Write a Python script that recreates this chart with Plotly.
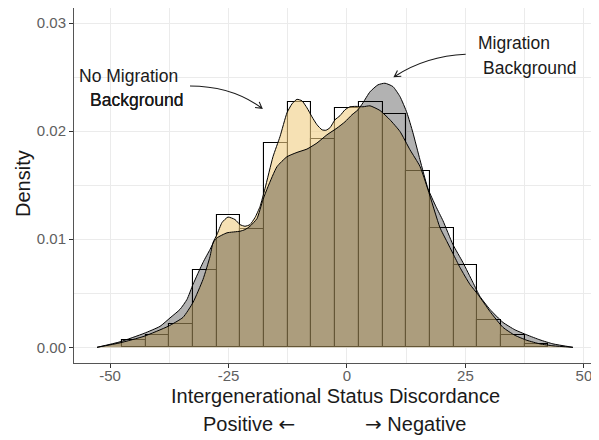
import math
import plotly.graph_objects as go

# ---------------- data ----------------
bin_centers = [-45, -40, -35, -30, -25, -20, -15, -10, -5, 0, 5, 10, 15, 20, 25, 30, 35, 40]
bin_density = [0.00067, 0.00115, 0.00219, 0.00714, 0.01228, 0.01096, 0.01892, 0.02271, 0.01927,
               0.02215, 0.02266, 0.02160, 0.01634, 0.01101, 0.00757, 0.00254, 0.00111, 0.00030]
bin_width = 5

nomig_x = [-52.74, -47.89, -42.83, -37.76, -34.6, -32.49, -30.38, -28.9, -28.27, -27.43, -26.37,
           -25.11, -23.63, -22.57, -21.52, -20.46, -19.41, -18.35, -17.3, -15.61, -14.14, -12.66,
           -11.6, -10.55, -9.49, -8.44, -7.38, -6.33, -5.27, -4.43, -3.59, -2.53, -1.48, -0.42,
           0.63, 1.9, 3.38, 4.85, 6.96, 9.07, 11.18, 13.29, 15.4, 17.09, 19.62, 21.1, 22.36,
           23.84, 25.95, 27.64, 30.17, 32.91, 35.44, 37.97, 40.72, 43.46, 47.68]
nomig_y = [0.0, 0.000415, 0.00102, 0.00194, 0.00277, 0.00415, 0.00628, 0.0084, 0.00969, 0.01043,
           0.01154, 0.01205, 0.01182, 0.01135, 0.0112, 0.01135, 0.012, 0.01302, 0.01468, 0.01763,
           0.01948, 0.02169, 0.02252, 0.02294, 0.0228, 0.02215, 0.02132, 0.02059, 0.02012, 0.02008,
           0.02031, 0.02105, 0.02142, 0.02197, 0.02225, 0.02229, 0.02225, 0.02234, 0.02191, 0.02105,
           0.01997, 0.01828, 0.01674, 0.01459, 0.01108, 0.00978, 0.00868, 0.00739, 0.00582, 0.00489,
           0.00332, 0.00185, 0.00111, 0.00065, 0.00032, 0.00014, 0.0]

mig_x = [-52.74, -47.89, -42.83, -39.45, -37.34, -35.23, -33.76, -32.49, -30.38, -28.9, -28.06,
         -27.43, -25.32, -22.57, -21.52, -20.46, -18.99, -17.72, -16.67, -14.77, -12.66, -10.55,
         -8.44, -6.33, -4.22, -2.11, -0.42, 1.05, 2.32, 3.38, 4.85, 6.54, 8.02, 9.7, 11.18, 12.66,
         13.92, 15.4, 17.09, 18.78, 20.25, 22.36, 24.47, 26.58, 28.06, 30.17, 32.91, 35.44, 37.97,
         40.72, 43.46, 47.68]
mig_y = [0.0, 0.00051, 0.00129, 0.00194, 0.00272, 0.00351, 0.00443, 0.00582, 0.00785, 0.00905,
         0.00979, 0.01013, 0.01059, 0.01074, 0.01089, 0.0112, 0.01191, 0.01366, 0.01486, 0.01671,
         0.01763, 0.01803, 0.01834, 0.0189, 0.01966, 0.02028, 0.02086, 0.02151, 0.02197, 0.02262,
         0.02363, 0.02428, 0.02443, 0.02412, 0.0232, 0.02169, 0.01985, 0.01736, 0.01468, 0.01302,
         0.01172, 0.00951, 0.00785, 0.0060, 0.00471, 0.00351, 0.00231, 0.00162, 0.00115, 0.00069,
         0.00032, 0.0]

x_tickvals = [-50, -25, 0, 25, 50]
x_ticktext = ["-50", "-25", "0", "25", "50"]
y_tickvals = [0.00, 0.01, 0.02, 0.03]
y_ticktext = ["0.00", "0.01", "0.02", "0.03"]

# ---------------- layout geometry (window pixel coords) ----------------
OFF = 8                      # the page body adds an 8px margin
WIN_W, WIN_H = 599, 440
W, H = WIN_W - OFF, WIN_H - OFF
PX0, PX1 = 74, 596
PY0, PY1 = 8, 363
ML, MR = PX0 - OFF, WIN_W - PX1
MT, MB = PY0 - OFF, WIN_H - PY1
XR = [-57.6, 52.55]
YR = [-0.00145, 0.031388]
PW, PH = PX1 - PX0, PY1 - PY0

def px2x(px):
    return XR[0] + (px - PX0) / PW * (XR[1] - XR[0])

def py2y(py):
    return YR[1] - (py - PY0) / PH * (YR[1] - YR[0])

def pxp(px):
    return (px - PX0) / PW

def pyp(py):
    return (PY1 - py) / PH

def curved_arrow(p0, c, p1, head=7.0):
    dx, dy = p1[0] - c[0], p1[1] - c[1]
    n = math.hypot(dx, dy)
    bx, by = -dx / n, -dy / n
    pts = []
    for ang in (math.radians(30), -math.radians(30)):
        rx = bx * math.cos(ang) - by * math.sin(ang)
        ry = bx * math.sin(ang) + by * math.cos(ang)
        pts.append((p1[0] + head * rx, p1[1] + head * ry))
    f = lambda p: f"{px2x(p[0])},{py2y(p[1])}"
    path = (f"M{f(p0)} Q{f(c)} {f(p1)} "
            f"M{f(pts[0])} L{f(p1)} L{f(pts[1])}")
    return dict(type="path", xref="x", yref="y", path=path,
                line=dict(color="#1a1a1a", width=1.1))

fig = go.Figure()

fig.add_trace(go.Bar(
    x=bin_centers, y=bin_density, width=bin_width,
    marker=dict(color="white", line=dict(color="black", width=1.1)),
    showlegend=False, hoverinfo="skip"))

fig.add_trace(go.Scatter(
    x=nomig_x, y=nomig_y, mode="lines", fill="tozeroy",
    fillcolor="rgba(240,205,130,0.6)",
    line=dict(color="black", width=1, shape="spline", smoothing=0.5),
    showlegend=False, hoverinfo="skip"))

fig.add_trace(go.Scatter(
    x=mig_x, y=mig_y, mode="lines", fill="tozeroy",
    fillcolor="rgba(0,0,0,0.3)",
    line=dict(color="black", width=1, shape="spline", smoothing=0.5),
    showlegend=False, hoverinfo="skip"))

font_main = "Liberation Sans, Arial, sans-serif"
axis_common = dict(
    showgrid=True, gridcolor="#EBEBEB", gridwidth=1.1,
    zeroline=False, showline=True, mirror=True, linecolor="#555555", linewidth=1,
    ticks="outside", ticklen=4, tickcolor="#333333", tickwidth=1,
    tickfont=dict(family=font_main, size=15, color="#606060"),
)

fig.update_xaxes(range=XR, tickmode="array", tickvals=x_tickvals, ticktext=x_ticktext,
                 minor=dict(dtick=12.5, tick0=0, showgrid=True, gridcolor="#EBEBEB",
                            gridwidth=0.55, ticks=""),
                 ticklabelstandoff=-5,
                 automargin=False, **axis_common)
fig.update_yaxes(range=YR, tickmode="array", tickvals=y_tickvals, ticktext=y_ticktext,
                 minor=dict(dtick=0.005, tick0=0, showgrid=True, gridcolor="#EBEBEB",
                            gridwidth=0.55, ticks=""),
                 automargin=False, **axis_common)

arrow_font = "font-family:'DejaVu Sans'"
ann = []
ann.append(dict(text="Density", x=pxp(23), y=pyp(184), xref="paper", yref="paper",
                textangle=-90, showarrow=False, xanchor="center", yanchor="middle",
                font=dict(family=font_main, size=20, color="#1a1a1a")))
ann.append(dict(text="Intergenerational Status Discordance", x=pxp(335), y=pyp(396),
                xref="paper", yref="paper", showarrow=False, xanchor="center", yanchor="middle",
                font=dict(family=font_main, size=20, color="#1a1a1a")))
ann.append(dict(text=f"Positive <span style=\"{arrow_font}\">\u2190</span>", x=pxp(297), y=pyp(424),
                xref="paper", yref="paper",
                showarrow=False, xanchor="right", yanchor="middle",
                font=dict(family=font_main, size=20, color="#1a1a1a")))
ann.append(dict(text=f"<span style=\"{arrow_font}\">\u2192</span> Negative", x=pxp(363), y=pyp(424),
                xref="paper", yref="paper",
                showarrow=False, xanchor="left", yanchor="middle",
                font=dict(family=font_main, size=20, color="#1a1a1a")))
for txt, lx, cy in [("No Migration", 77, 76), ("Background", 88, 100),
                    ("Background", 88.4, 100),
                    ("Migration", 476, 43), ("Background", 481, 68)]:
    ann.append(dict(text=txt, x=pxp(lx), y=pyp(cy), xref="paper", yref="paper",
                    showarrow=False, xanchor="left", yanchor="middle",
                    font=dict(family=font_main, size=17.5, color="#1a1a1a")))

shapes = [
    curved_arrow((190, 86), (232, 86), (262, 108.3)),
    curved_arrow((465.7, 54.3), (426, 56), (394.3, 76.7)),
]

fig.update_layout(
    width=W, height=H, margin=dict(l=ML, r=MR, t=MT, b=MB, pad=0, autoexpand=False),
    paper_bgcolor="white", plot_bgcolor="white",
    bargap=0, barmode="overlay",
    annotations=ann, shapes=shapes, showlegend=False,
)

fig.write_html("out.html")
